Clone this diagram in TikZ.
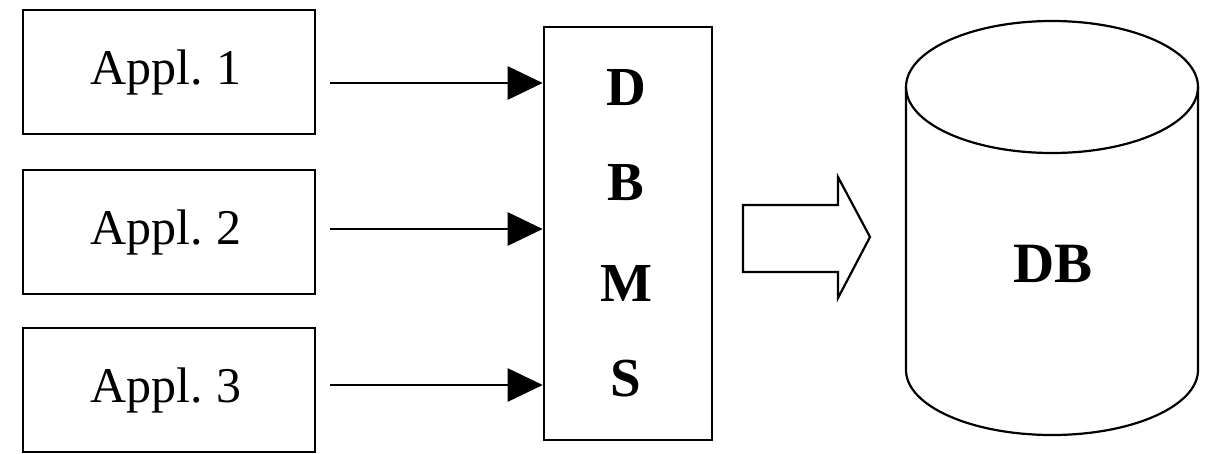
\documentclass[tikz,border=0pt]{standalone}
\usepackage{fontspec}
\setmainfont{Liberation Serif}
\usetikzlibrary{arrows.meta}
\begin{document}
\begin{tikzpicture}[x=1pt,y=-1pt,
  appbox/.style={draw,line width=2.6pt,minimum width=292pt,minimum height=124pt,
    inner sep=0pt,font=\fontsize{50}{50}\selectfont},
  dbmsbox/.style={draw,line width=2.6pt,minimum width=168pt,minimum height=413pt,inner sep=0pt},
  letter/.style={font=\fontsize{55}{55}\selectfont\bfseries},
  feed/.style={line width=2.6pt,-{Triangle[length=35pt,width=33pt]}},
  outline/.style={line width=2.2pt,line join=miter}]
  \useasboundingbox (0,0) rectangle (1215,453);

  % application boxes
  \node[appbox] (a1) at (169,72) {\kern-6ptAppl.\kern13pt1};
  \node[appbox] (a2) at (169,232) {\kern-6ptAppl.\kern13pt2};
  \node[appbox] (a3) at (169,390) {\kern-6ptAppl.\kern13pt3};

  % DBMS column
  \node[dbmsbox] (dbms) at (628,233.5) {};
  \node[letter] (lD) at (626,88) {D};
  \node[letter] (lB) at (626,183) {B};
  \node[letter] (lM) at (626,283) {M};
  \node[letter] (lS) at (626,379) {S};

  % arrows from the applications into the DBMS
  \coordinate (s1) at (330,83);
  \coordinate (s2) at (330,229);
  \coordinate (s3) at (330,385);
  \draw[feed] (s1) -- (s1 -| dbms.west);
  \draw[feed] (s2) -- (s2 -| dbms.west);
  \draw[feed] (s3) -- (s3 -| dbms.west);

  % hollow block arrow towards the database
  \draw[outline] (743,205) -- (838,205) -- (838,177) -- (870,237)
    -- (838,298) -- (838,272) -- (743,272) -- cycle;

  % database cylinder
  \draw[outline] (1052,87) ellipse [x radius=146, y radius=66];
  \draw[outline] (906,87) -- (906,370)
    arc[start angle=180, end angle=0, x radius=146, y radius=65]
    -- (1198,87);
  \node[letter,font=\fontsize{57}{57}\selectfont\bfseries] (db) at (1053,264) {DB};
\end{tikzpicture}
\end{document}
